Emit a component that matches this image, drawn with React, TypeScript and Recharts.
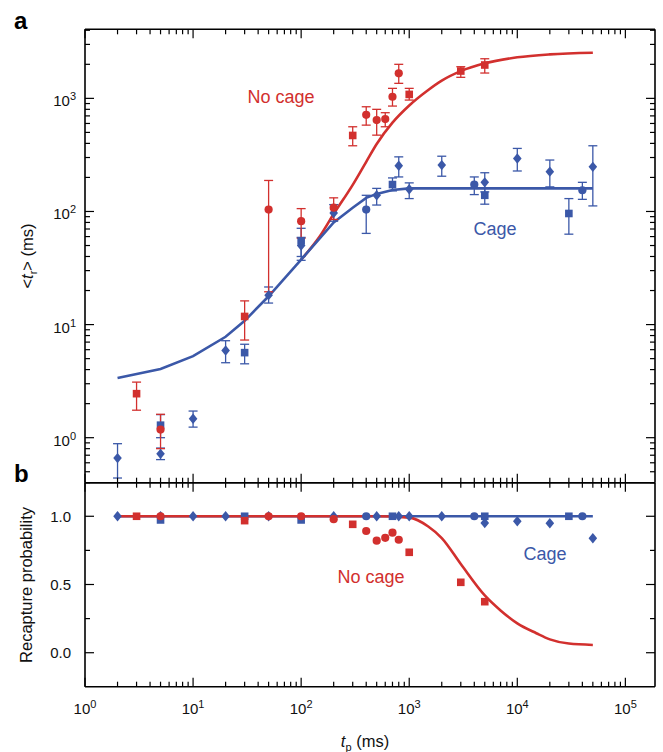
import { ComposedChart, ErrorBar, Line, Scatter, XAxis, YAxis } from 'recharts'

const RED = '#d2302e'
const BLUE = '#3b58a8'
const FONT = '"Liberation Sans", Arial, Helvetica, sans-serif'

// panel a: [tp (ms), <tr> (ms), lower, upper]
const redSquaresA = [
  [3, 2.45, 1.75, 3.1],
  [30, 11.8, 7.3, 16.2],
  [300, 470, 381, 561],
  [1000, 1084, 966, 1226],
  [3000, 1745, 1535, 1905],
  [5000, 1972, 1675, 2240],
]
const redCirclesA = [
  [5, 1.18, 0.8, 1.61],
  [50, 104, 19.5, 188],
  [100, 82, 58, 106],
  [200, 108, 85, 132],
  [400, 716, 580, 843],
  [500, 643, 473, 800],
  [600, 656, 561, 747],
  [700, 1033, 855, 1226],
  [800, 1664, 1358, 2000],
]
const blueDiamondsA = [
  [2, 0.66, 0.44, 0.885],
  [5, 0.72, 0.64, 0.81],
  [10, 1.47, 1.24, 1.72],
  [20, 5.9, 4.6, 7.2],
  [50, 18.2, 15.5, 21.5],
  [100, 50, 37, 59],
  [200, 97, 82, 115],
  [500, 139, 114, 160],
  [800, 254, 202, 304],
  [1000, 157, 130, 179],
  [2000, 257, 205, 308],
  [5000, 181, 149, 220],
  [10000, 294, 228, 361],
  [20000, 225, 165, 285],
  [50000, 248, 112, 381],
]
const blueSquaresA = [
  [5, 1.29, 1.0, 1.6],
  [30, 5.65, 4.5, 6.7],
  [100, 55, 40, 71],
  [700, 173, 152, 198],
  [5000, 139, 116, 160],
  [30000, 96, 63, 130],
]
const blueCirclesA = [
  [400, 104, 64, 139],
  [4000, 173, 141, 202],
  [40000, 154, 128, 181],
]

// fitted curves, panel a (the no-cage fit lies under the cage fit below 100 ms)
const blueFitXA = [2, 5, 10, 20, 30, 50, 100, 200, 300, 400, 500, 700, 1000, 2000, 5000, 10000, 20000, 50000]
const blueFitA = [3.37, 4.05, 5.26, 7.8, 10.8, 17.8, 37.5, 80, 108, 132, 143, 155, 160, 160, 160, 160, 160, 160]
const redFitXA = [100, 150, 200, 300, 400, 500, 700, 1000, 1500, 2000, 3000, 5000, 10000, 20000, 50000]
const redFitA = [37.5, 61, 95, 172, 275, 395, 610, 865, 1186, 1435, 1740, 2040, 2306, 2449, 2535]

// panel b: [tp (ms), recapture probability]
const redSquaresB = [[3, 1.0], [30, 0.968], [300, 0.941], [1000, 0.736], [3000, 0.516], [5000, 0.374]]
const redCirclesB = [[5, 1.0], [50, 1.0], [100, 1.0], [200, 0.979], [400, 0.892], [500, 0.821], [600, 0.842], [700, 0.88], [800, 0.828]]
const blueDiamondsB = [
  [2, 1.0], [5, 1.0], [10, 1.0], [20, 1.0], [50, 1.0], [200, 1.0], [500, 1.0], [800, 1.0], [1000, 1.0],
  [2000, 1.0], [5000, 0.951], [10000, 0.964], [20000, 0.949], [50000, 0.839],
]
const blueSquaresB = [[5, 0.973], [30, 1.0], [100, 0.973], [700, 1.0], [5000, 1.0], [30000, 1.0]]
const blueCirclesB = [[400, 1.0], [4000, 1.0], [40000, 1.0]]

const fitXB = [2, 10, 100, 500, 1000, 1500, 2000, 3000, 5000, 7000, 10000, 15000, 20000, 30000, 50000]
const redFitB = [1.0, 1.0, 1.0, 1.0, 0.99, 0.925, 0.84, 0.65, 0.42, 0.31, 0.215, 0.143, 0.098, 0.067, 0.057]
const blueFitB = [1.0, 1.0, 1.0, 1.0, 1.0, 1.0, 1.0, 1.0, 1.0, 1.0, 1.0, 1.0, 1.0, 1.0, 1.0]

const X_DOMAIN = [1, 188000]
const A_DOMAIN = [0.4, 4080]
const B_DOMAIN = [-0.249, 1.246]

const mults = [1, 2, 3, 4, 5, 6, 7, 8, 9]
const xTicks = [1, 10, 100, 1000, 10000, 100000].flatMap((d) => mults.map((m) => m * d)).filter((v) => v <= X_DOMAIN[1])
const aTicks = [0.4, 0.5, 0.6, 0.7, 0.8, 0.9, ...[1, 10, 100, 1000].flatMap((d) => mults.map((m) => m * d))].filter((v) => v <= A_DOMAIN[1])
const bTicks = [0, 0.25, 0.5, 0.75, 1.0]
const bLabels = ['0.0', '0.5', '1.0']

const withErr = (rows: number[][]) => rows.map(([x, y, lo, hi]) => ({ x, y, err: [y - lo, hi - y] }))
const pts = (rows: number[][]) => rows.map(([x, y]) => ({ x, y }))
const curve = (xs: number[], ys: number[]) => xs.map((x, i) => ({ x, y: ys[i] }))

const isDecade = (v: number) => Math.abs(Math.log10(v) - Math.round(Math.log10(v))) < 1e-9
const isHalf = (v: number) => Math.abs(v * 2 - Math.round(v * 2)) < 1e-9

function Pow10({ x, y, v, anchor }: { x: number; y: number; v: number; anchor: 'middle' | 'end' }) {
  return (
    <text x={x} y={y} textAnchor={anchor} fontSize={15} fontFamily={FONT} fill="#111">
      10<tspan dy={-6} fontSize={11}>{Math.round(Math.log10(v))}</tspan>
    </text>
  )
}

// ticks point into the plot, as in the original frame
function FrameTick(props: any) {
  const { x, y, payload, side, major, label } = props
  const v = payload.value
  const len = major(v) ? 9 : 5
  const dx = side === 'left' ? len : side === 'right' ? -len : 0
  const dy = side === 'top' ? len : side === 'bottom' ? -len : 0
  return (
    <g>
      <line x1={x} y1={y} x2={x + dx} y2={y + dy} stroke="#000" strokeWidth={1.2} />
      {label && major(v) ? label(x, y, v) : null}
    </g>
  )
}

function Marker(props: any) {
  const { cx, cy, kind, color } = props
  if (cx == null || cy == null) return null
  if (kind === 'square') return <rect x={cx - 3.8} y={cy - 3.8} width={7.6} height={7.6} fill={color} />
  if (kind === 'diamond')
    return <polygon points={`${cx},${cy - 5.2} ${cx + 4.3},${cy} ${cx},${cy + 5.2} ${cx - 4.3},${cy}`} fill={color} />
  return <circle cx={cx} cy={cy} r={4.1} fill={color} />
}

const axisLine = { stroke: '#000', strokeWidth: 1.6 }

function xAxes(bottomLabels: boolean, bottomHeight: number, topHeight: number) {
  return [
    <XAxis
      key="xb"
      xAxisId="b"
      type="number"
      dataKey="x"
      scale="log"
      domain={X_DOMAIN}
      allowDataOverflow
      ticks={xTicks}
      interval={0}
      tickSize={0}
      tickMargin={0}
      tickLine={false}
      axisLine={axisLine}
      height={bottomHeight}
      tick={(p: any) => (
        <FrameTick
          {...p}
          side="bottom"
          major={isDecade}
          label={bottomLabels ? (x: number, y: number, v: number) => <Pow10 x={x} y={y + 27} v={v} anchor="middle" /> : null}
        />
      )}
    />,
    <XAxis
      key="xt"
      xAxisId="t"
      orientation="top"
      type="number"
      dataKey="x"
      scale="log"
      domain={X_DOMAIN}
      allowDataOverflow
      ticks={xTicks}
      interval={0}
      tickSize={0}
      tickMargin={0}
      tickLine={false}
      axisLine={axisLine}
      height={topHeight}
      tick={(p: any) => <FrameTick {...p} side="top" major={isDecade} />}
    />,
  ]
}

function errSeries(rows: number[][], kind: string, color: string) {
  return (
    <Scatter
      key={`${kind}-${color}`}
      data={withErr(rows)}
      dataKey="y"
      xAxisId="b"
      yAxisId="l"
      isAnimationActive={false}
      shape={(p: any) => <Marker {...p} kind={kind} color={color} />}
    >
      <ErrorBar dataKey="err" direction="y" width={4.5} stroke={color} strokeWidth={1.3} />
    </Scatter>
  )
}

function plainSeries(rows: number[][], kind: string, color: string) {
  return (
    <Scatter
      key={`${kind}-${color}`}
      data={pts(rows)}
      dataKey="y"
      xAxisId="b"
      yAxisId="l"
      isAnimationActive={false}
      shape={(p: any) => <Marker {...p} kind={kind} color={color} />}
    />
  )
}

function fitLine(xs: number[], ys: number[], color: string, name: string, type: 'linear' | 'monotone') {
  return (
    <Line
      key={name}
      data={curve(xs, ys)}
      dataKey="y"
      xAxisId="b"
      yAxisId="l"
      type={type}
      stroke={color}
      strokeWidth={2.6}
      dot={false}
      activeDot={false}
      isAnimationActive={false}
    />
  )
}

function PanelA() {
  return (
    <ComposedChart width={663} height={490} margin={{ top: 24, right: 0, bottom: 0, left: 0 }}>
      {xAxes(false, 7.3, 5.3)}
      <YAxis
        yAxisId="l"
        type="number"
        scale="log"
        domain={A_DOMAIN}
        allowDataOverflow
        ticks={aTicks}
        interval={0}
        tickSize={0}
        tickMargin={0}
        tickLine={false}
        axisLine={axisLine}
        width={85}
        tick={(p: any) => (
          <FrameTick
            {...p}
            side="left"
            major={isDecade}
            label={(x: number, y: number, v: number) => <Pow10 x={x - 9} y={y + 8} v={v} anchor="end" />}
          />
        )}
      />
      <YAxis
        yAxisId="r"
        orientation="right"
        type="number"
        scale="log"
        domain={A_DOMAIN}
        allowDataOverflow
        ticks={aTicks}
        interval={0}
        tickSize={0}
        tickMargin={0}
        tickLine={false}
        axisLine={axisLine}
        width={8}
        tick={(p: any) => <FrameTick {...p} side="right" major={isDecade} />}
      />
      {fitLine(redFitXA, redFitA, RED, 'redFitA', 'monotone')}
      {fitLine(blueFitXA, blueFitA, BLUE, 'blueFitA', 'linear')}
      {errSeries(blueDiamondsA, 'diamond', BLUE)}
      {errSeries(blueSquaresA, 'square', BLUE)}
      {errSeries(blueCirclesA, 'circle', BLUE)}
      {errSeries(redSquaresA, 'square', RED)}
      {errSeries(redCirclesA, 'circle', RED)}
    </ComposedChart>
  )
}

function PanelB() {
  return (
    <ComposedChart width={663} height={282} margin={{ top: 7.7, right: 0, bottom: 25.3, left: 0 }}>
      {xAxes(true, 40, 5)}
      <YAxis
        yAxisId="l"
        type="number"
        domain={B_DOMAIN}
        allowDataOverflow
        ticks={bTicks}
        interval={0}
        tickSize={0}
        tickMargin={0}
        tickLine={false}
        axisLine={axisLine}
        width={85}
        tick={(p: any) => (
          <FrameTick
            {...p}
            side="left"
            major={isHalf}
            label={(x: number, y: number, v: number) => (
              <text x={x - 14} y={y + 5.4} textAnchor="end" fontSize={15} fontFamily={FONT} fill="#111">
                {bLabels[Math.round(v * 2)]}
              </text>
            )}
          />
        )}
      />
      <YAxis
        yAxisId="r"
        orientation="right"
        type="number"
        domain={B_DOMAIN}
        allowDataOverflow
        ticks={bTicks}
        interval={0}
        tickSize={0}
        tickMargin={0}
        tickLine={false}
        axisLine={axisLine}
        width={8}
        tick={(p: any) => <FrameTick {...p} side="right" major={isHalf} />}
      />
      {fitLine(fitXB, blueFitB, BLUE, 'blueFitB', 'linear')}
      {fitLine(fitXB, redFitB, RED, 'redFitB', 'monotone')}
      {plainSeries(blueDiamondsB, 'diamond', BLUE)}
      {plainSeries(blueSquaresB, 'square', BLUE)}
      {plainSeries(blueCirclesB, 'circle', BLUE)}
      {plainSeries(redSquaresB, 'square', RED)}
      {plainSeries(redCirclesB, 'circle', RED)}
    </ComposedChart>
  )
}

export default function App() {
  return (
    <div style={{ position: 'absolute', left: 0, top: 0, width: 663, height: 752, background: '#fff', fontFamily: FONT }}>
      <div style={{ position: 'absolute', left: 0, top: 0 }}>
        <PanelA />
      </div>
      <div style={{ position: 'absolute', left: 0, top: 470 }}>
        <PanelB />
      </div>
      <svg width={663} height={752} style={{ position: 'absolute', left: 0, top: 0, pointerEvents: 'none' }} fontFamily={FONT}>
        <text x={14} y={29} fontSize={24} fontWeight="bold" fill="#000">a</text>
        <text x={14} y={482} fontSize={24} fontWeight="bold" fill="#000">b</text>
        <text transform="rotate(-90)" x={-256} y={33} textAnchor="middle" fontSize={16.5} fill="#111">
          &lt;<tspan fontStyle="italic">t</tspan>
          <tspan dy={4} fontSize={11}>r</tspan>
          <tspan dy={-4}>&gt; (ms)</tspan>
        </text>
        <text transform="rotate(-90)" x={-585} y={32} textAnchor="middle" fontSize={16.5} fill="#111">
          Recapture probability
        </text>
        <text x={365} y={747} textAnchor="middle" fontSize={16.5} fill="#111">
          <tspan fontStyle="italic">t</tspan>
          <tspan dy={4} fontSize={11}>p</tspan>
          <tspan dy={-4}> (ms)</tspan>
        </text>
        <text x={281} y={103} textAnchor="middle" fontSize={18} fill={RED}>No cage</text>
        <text x={495} y={235} textAnchor="middle" fontSize={18} fill={BLUE}>Cage</text>
        <text x={371} y={583} textAnchor="middle" fontSize={18} fill={RED}>No cage</text>
        <text x={545} y={560} textAnchor="middle" fontSize={18} fill={BLUE}>Cage</text>
      </svg>
    </div>
  )
}
